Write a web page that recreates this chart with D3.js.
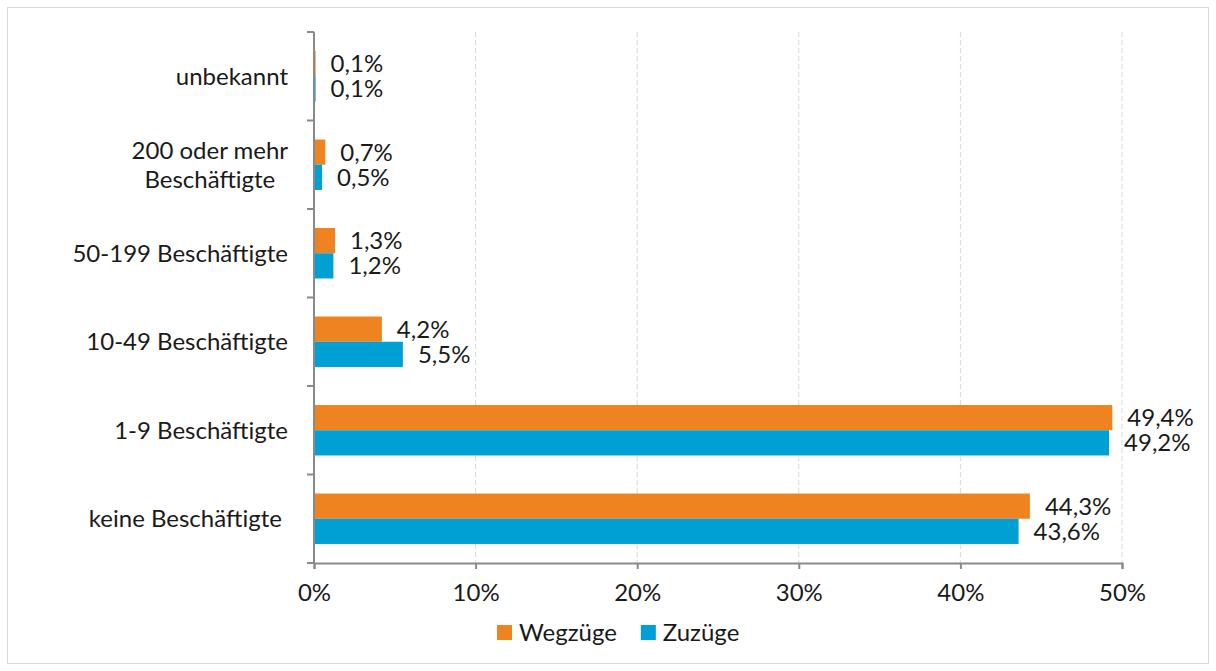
<!DOCTYPE html>
<html lang="de">
<head>
    <meta charset="utf-8" />
    <title>Betriebsgröße</title>
    <script src="https://d3js.org/d3.v7.min.js"></script>
    <style>
        body { margin: 0; background: #fff; }
        text { font-family: Lato, "Open Sans", sans-serif; fill: #1a1a1a; }
        .grid line { stroke: #d9d9d9; stroke-dasharray: 5 3; }
    </style>
</head>
<body>
<svg width="1216" height="671"></svg>
<script>
// categories top to bottom
var categories = ["unbekannt", "200 oder mehr\nBeschäftigte", "50-199 Beschäftigte",
                  "10-49 Beschäftigte", "1-9 Beschäftigte", "keine Beschäftigte "];
var series = ["Wegzüge", "Zuzüge"];
var wegzuege = [0.1, 0.7, 1.3, 4.2, 49.4, 44.3];
var zuzuege  = [0.1, 0.5, 1.2, 5.5, 49.2, 43.6];
var xTicks = [0, 10, 20, 30, 40, 50];
var colors = ["#ee8320", "#00a0d5"];

var fs = 24;
var svg = d3.select("svg");

// frame
svg.append("rect")
    .attr("x", 7.5).attr("y", 7.5)
    .attr("width", 1201).attr("height", 656)
    .attr("fill", "none").attr("stroke", "#d9d9d9");

var plotL = 314, plotR = 1122, plotT = 32, plotB = 563;

var x = d3.scaleLinear().domain([0, 50]).range([plotL, plotR]);
var y = d3.scaleBand().domain(categories).range([plotT, plotB]).paddingInner(0.43).paddingOuter(0.215);
var ySub = d3.scaleBand().domain(series).range([0, y.bandwidth()]);

// grid
svg.append("g").attr("class", "grid")
    .selectAll("line")
    .data(xTicks.slice(1))
    .enter().append("line")
        .attr("x1", function (d) { return x(d); })
        .attr("x2", function (d) { return x(d); })
        .attr("y1", plotT).attr("y2", plotB);

// bars
var data = [];
categories.forEach(function (c, i) {
    data.push({cat: c, s: series[0], v: wegzuege[i], col: colors[0]});
    data.push({cat: c, s: series[1], v: zuzuege[i], col: colors[1]});
});

svg.append("g")
    .selectAll("rect")
    .data(data)
    .enter().append("rect")
        .attr("x", x(0))
        .attr("y", function (d) { return y(d.cat) + ySub(d.s); })
        .attr("width", function (d) { return x(d.v) - x(0); })
        .attr("height", ySub.bandwidth())
        .attr("fill", function (d) { return d.col; });

// value labels
svg.append("g")
    .selectAll("text")
    .data(data)
    .enter().append("text")
        .attr("x", function (d) { return x(d.v) + 15; })
        .attr("y", function (d) { return y(d.cat) + ySub(d.s) + ySub.bandwidth() / 2; })
        .attr("dy", "0.35em")
        .attr("font-size", fs)
        .text(function (d) { return d3.format(".1f")(d.v).replace(".", ",") + "%"; });

// x axis
var xAxis = svg.append("g")
    .attr("transform", "translate(0," + plotB + ")")
    .call(d3.axisBottom(x).tickValues(xTicks).tickSize(6).tickPadding(15)
        .tickFormat(function (d) { return d + "%"; }));
xAxis.select(".domain").attr("stroke", "#898989").attr("stroke-width", 2);
xAxis.selectAll(".tick line").attr("stroke", "#898989").attr("stroke-width", 2);
xAxis.selectAll("text").attr("font-size", fs).attr("font-family", null).attr("fill", "#1a1a1a");

// y axis: ticks at band boundaries
var yBounds = categories.map(function (c, i) { return plotT + i * (plotB - plotT) / categories.length; });
yBounds.push(plotB);
var yAxis = svg.append("g");
yAxis.append("line")
    .attr("x1", plotL).attr("x2", plotL).attr("y1", plotT).attr("y2", plotB)
    .attr("stroke", "#898989").attr("stroke-width", 2);
yAxis.selectAll(".yt")
    .data(yBounds)
    .enter().append("line")
        .attr("class", "yt")
        .attr("x1", plotL - 7).attr("x2", plotL)
        .attr("y1", function (d) { return d; }).attr("y2", function (d) { return d; })
        .attr("stroke", "#898989").attr("stroke-width", 2);

// category labels
var catLabels = svg.append("g")
    .selectAll("text")
    .data(categories)
    .enter().append("text")
        .attr("font-size", fs)
        .style("white-space", "pre")
        .attr("y", function (d) { return y(d) + y.bandwidth() / 2; });

catLabels.each(function (d) {
    var t = d3.select(this);
    var lines = d.split("\n");
    lines.forEach(function (l, i) {
        t.append("tspan")
            .attr("dy", i === 0 ? (0.35 - (lines.length - 1) / 2 * 1.2) + "em" : "1.2em")
            .text(l);
    });
    // centre the lines, right edge of widest line at 288
    var w = 0;
    t.selectAll("tspan").each(function () { w = Math.max(w, this.getComputedTextLength()); });
    t.attr("text-anchor", "middle");
    t.selectAll("tspan").attr("x", 288 - w / 2);
});

// legend
var legend = svg.append("g").attr("transform", "translate(497,625)");
var lx = 0;
series.forEach(function (s, i) {
    var g = legend.append("g").attr("transform", "translate(" + lx + ",0)");
    g.append("rect").attr("width", 15).attr("height", 15).attr("fill", colors[i]);
    var t = g.append("text").attr("x", 22).attr("y", 8).attr("dy", "0.35em")
        .attr("font-size", fs).text(s);
    lx += 22 + t.node().getComputedTextLength() + 24;
});
</script>
</body>
</html>
